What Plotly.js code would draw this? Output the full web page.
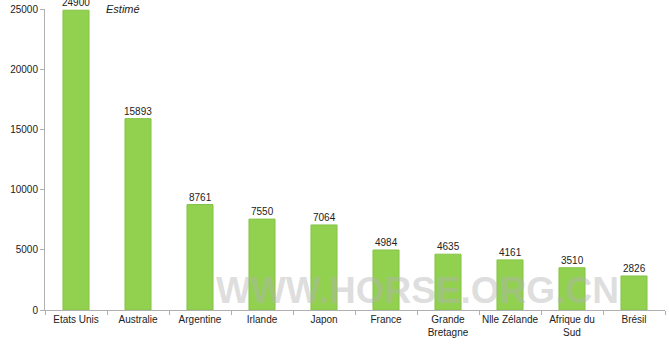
<!DOCTYPE html>
<html><head><meta charset="utf-8">
<script src="https://cdn.plot.ly/plotly-3.0.1.min.js"></script>
<style>html,body{margin:0;padding:0;background:#fff}</style>
</head><body>
<div id="chart" style="width:669px;height:346px"></div>
<script>
var categories = ["Etats Unis","Australie","Argentine","Irlande","Japon","France","Grande<br>Bretagne","Nlle Zélande","Afrique du<br>Sud","Brésil"];
var values = [24900,15893,8761,7550,7064,4984,4635,4161,3510,2826];
var yTicks = [0,5000,10000,15000,20000,25000];

var trace = {
  type: "bar", x: categories, y: values,
  marker: {color: "#92D050", line: {color: "#86c446", width: 1}},
  width: 0.42,
  hoverinfo: "none"
};
var labelAnns = categories.map(function (c, i) {
  return {x: c, y: values[i], xref: "x", yref: "y", text: String(values[i]),
    showarrow: false, yanchor: "bottom", yshift: 1, borderpad: 0,
    font: {family: "Liberation Sans, Arial, sans-serif", size: 10, color: "#222"}};
});
var layout = {
  width: 669, height: 346,
  margin: {l: 45, r: 4, t: 9, b: 36},
  paper_bgcolor: "#fff", plot_bgcolor: "#fff",
  showlegend: false,
  font: {family: "Liberation Sans, Arial, sans-serif", size: 10, color: "#222"},
  xaxis: {type: "category", showline: true, linecolor: "#b0b0b0", linewidth: 1,
    ticks: "outside", tickson: "boundaries", ticklen: 4, tickcolor: "#b0b0b0", tickangle: 0,
    tickfont: {size: 10, color: "#222"}, showgrid: false, zeroline: false, automargin: false},
  yaxis: {range: [0, 25000], tickvals: yTicks, ticktext: yTicks.map(String),
    showline: true, linecolor: "#b0b0b0", linewidth: 1, ticks: "outside", ticklen: 4,
    tickcolor: "#b0b0b0", showgrid: false, zeroline: false, tickfont: {size: 10, color: "#222"}},
  annotations: labelAnns.concat([
    {text: "<i>Estimé</i>", xref: "paper", yref: "paper", x: 0.095, y: 1.0, xanchor: "left", yanchor: "middle",
     showarrow: false, font: {size: 11, color: "#222"}},
    {text: "<b>WWW.HORSE.ORG.CN</b>", xref: "paper", yref: "paper", x: 0.6, y: 0.066, xanchor: "center", yanchor: "middle",
     showarrow: false, font: {size: 37, color: "rgba(180,180,180,0.45)", family: "Liberation Sans, Arial, sans-serif"}}
  ])
};
Plotly.newPlot("chart", [trace], layout, {staticPlot: true, displayModeBar: false});
</script>
</body></html>
